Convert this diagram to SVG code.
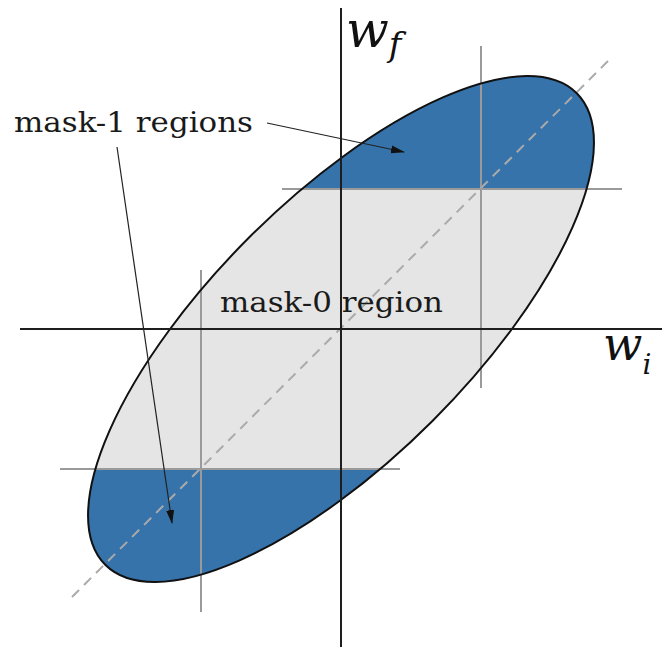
<svg xmlns="http://www.w3.org/2000/svg" width="662" height="647" viewBox="0 0 662 647">
<style>
.lbl{font-family:"DejaVu Serif","Liberation Serif",serif;font-size:27px;fill:#1a1a1a}
.math{font-family:"DejaVu Serif","Liberation Serif",serif;font-style:italic;fill:#111}
.grid{stroke:#9a9a9a;stroke-width:2;fill:none}
.axis{stroke:#1e1e1e;stroke-width:2;fill:none}
.ptr{stroke:#222;stroke-width:1.2;fill:none;marker-end:url(#ah)}
</style>
<defs>
<clipPath id="ec"><ellipse cx="341" cy="329" rx="333.4" ry="129.7" transform="rotate(-45 341 329)"/></clipPath>
<marker id="ah" markerWidth="14" markerHeight="10" refX="13" refY="5" orient="auto" markerUnits="userSpaceOnUse"><path d="M0,1 L14,5 L0,9 Z" fill="#111"/></marker>
</defs>
<g id="ellipse-regions">
<g clip-path="url(#ec)">
<rect x="0" y="0" width="662" height="647" fill="#e5e5e5"/>
<rect id="mask1-top" x="0" y="0" width="662" height="189" fill="#3673ab"/>
<rect id="mask1-bottom" x="0" y="469" width="662" height="178" fill="#3673ab"/>
</g>
</g>
<g id="grid-lines">
<line class="grid" x1="282" y1="189" x2="622" y2="189"/>
<line class="grid" x1="60" y1="469" x2="400" y2="469"/>
<line class="grid" x1="481" y1="46" x2="481" y2="388"/>
<line class="grid" x1="201" y1="270" x2="201" y2="612"/>
<line x1="72" y1="597" x2="609" y2="60" stroke="#aaaaaa" stroke-width="2" stroke-dasharray="10,7"/>
</g>
<g id="ellipse-outline">
<ellipse cx="341" cy="329" rx="333.4" ry="129.7" transform="rotate(-45 341 329)" fill="none" stroke="#111" stroke-width="2"/>
</g>
<g id="axes">
<line class="axis" x1="341" y1="8" x2="341" y2="647"/>
<line class="axis" x1="20" y1="329" x2="662" y2="329"/>
</g>
<g id="label-wf">
<text class="math" x="346" y="47" font-size="50">w<tspan dx="0" dy="9" font-size="34">f</tspan></text>
</g>
<g id="label-wi">
<text class="math" x="603" y="360" font-size="46">w<tspan dx="0" dy="14" font-size="28">i</tspan></text>
</g>
<g id="label-mask0">
<text class="lbl" x="220" y="312" textLength="223" lengthAdjust="spacingAndGlyphs">mask-0 region</text>
</g>
<g id="label-mask1">
<text class="lbl" x="14" y="132" textLength="239" lengthAdjust="spacingAndGlyphs">mask-1 regions</text>
</g>
<g id="connectors">
<line class="ptr" x1="267" y1="123" x2="404" y2="152"/>
<line class="ptr" x1="117" y1="147" x2="172" y2="523"/>
</g>
</svg>
